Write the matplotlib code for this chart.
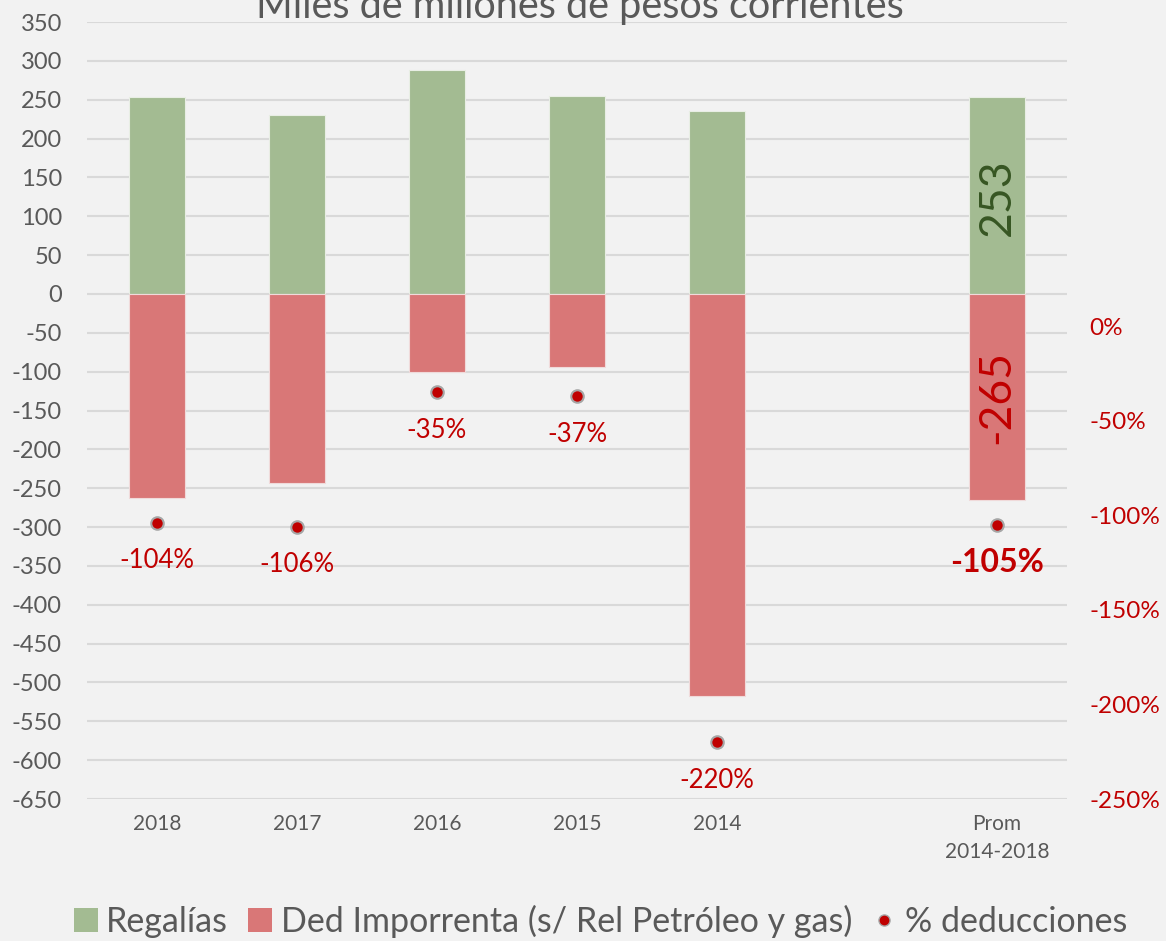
import matplotlib
matplotlib.use('Agg')
import matplotlib.pyplot as plt
from matplotlib.lines import Line2D
from matplotlib.patches import Patch
import numpy as np

plt.rcParams['font.family'] = ['Lato', 'DejaVu Sans']
plt.rcParams['axes.unicode_minus'] = False

# Data
categories = ['2018', '2017', '2016', '2015', '2014', '', 'Prom\n2014-2018']
regalias = [253, 230, 288, 255, 236, np.nan, 253]
deducciones = [-262, -243, -101, -94, -517, np.nan, -265]
pct_deducciones = [-1.04, -1.06, -0.35, -0.37, -2.20, np.nan, -1.05]
pct_labels = ['-104%', '-106%', '-35%', '-37%', '-220%', '', '-105%']

green = '#A3BB92'
red = '#D97777'
dark_red = '#C00000'
gray_txt = '#595959'
bg = '#F2F2F2'

fig = plt.figure(figsize=(11.66, 9.41), dpi=100, facecolor=bg)
ax = fig.add_axes([0.0746, 0.1509, 0.8405, 0.8257])
ax.set_facecolor(bg)
x = np.arange(len(categories))

ax.bar(x, regalias, width=0.4, color=green, edgecolor='#E8EEE4', linewidth=0.8, zorder=2)
ax.bar(x, deducciones, width=0.4, color=red, edgecolor='#F0DADA', linewidth=0.8, zorder=2)

ax.set_xlim(-0.5, 6.5)
ax.set_ylim(-650, 350)
ax.set_yticks(np.arange(-650, 351, 50))
ax.grid(axis='y', color='#D9D9D9', linewidth=1.5, zorder=0)
ax.set_xticks(x)
ax.set_xticklabels(categories, fontsize=15, color=gray_txt, linespacing=1.5)
ax.tick_params(axis='x', length=0, pad=11)
ax.tick_params(axis='y', length=0, labelsize=17, labelcolor=gray_txt, pad=18)
for s in ax.spines.values():
    s.set_visible(False)

# value labels on the average bar
ax.text(6, 125, '253', rotation=90, ha='center', va='center', fontsize=32, color='#375623')
ax.text(6, -133, '-265', rotation=90, ha='center', va='center', fontsize=32, color=dark_red)

# secondary axis for percentages
ax2 = ax.twinx()
ax2.set_ylim(-2.5, 1.607)
ax2.set_yticks([0, -0.5, -1.0, -1.5, -2.0, -2.5])
ax2.set_yticklabels(['0%', '-50%', '-100%', '-150%', '-200%', '-250%'])
ax2.tick_params(axis='y', length=0, labelsize=17.5, labelcolor=dark_red, pad=16)
for s in ax2.spines.values():
    s.set_visible(False)
ax2.plot(x, pct_deducciones, linestyle='none', marker='o', markersize=9,
         markerfacecolor=dark_red, markeredgecolor='#A6A6A6', markeredgewidth=1.5, zorder=3)
for xi, v, t in zip(x, pct_deducciones, pct_labels):
    if np.isnan(v):
        continue
    bold = xi == 6
    ax2.annotate(t, (xi, v), xytext=(0, -38), textcoords='offset pixels',
                 ha='center', va='center', color=dark_red,
                 fontsize=23 if bold else 18.5, fontweight='bold' if bold else 'normal')

fig.text(0.497, 0.993, 'Miles de millones de pesos corrientes', ha='center', va='center',
         fontsize=28.5, color=gray_txt)

handles = [Patch(facecolor=green, edgecolor='none'),
           Patch(facecolor=red, edgecolor='none'),
           Line2D([], [], linestyle='none', marker='o', markersize=8,
                  markerfacecolor=dark_red, markeredgecolor='#A6A6A6')]
fig.legend(handles, ['Regalías', 'Ded Imporrenta (s/ Rel Petróleo y gas)', '% deducciones'],
           loc='center', bbox_to_anchor=(0.515, 0.021), ncol=3, frameon=False,
           fontsize=24.5, labelcolor=gray_txt, handlelength=0.7, handleheight=0.7,
           handletextpad=0.25, columnspacing=0.6)

fig.savefig('out.png', dpi=100, facecolor=bg)
